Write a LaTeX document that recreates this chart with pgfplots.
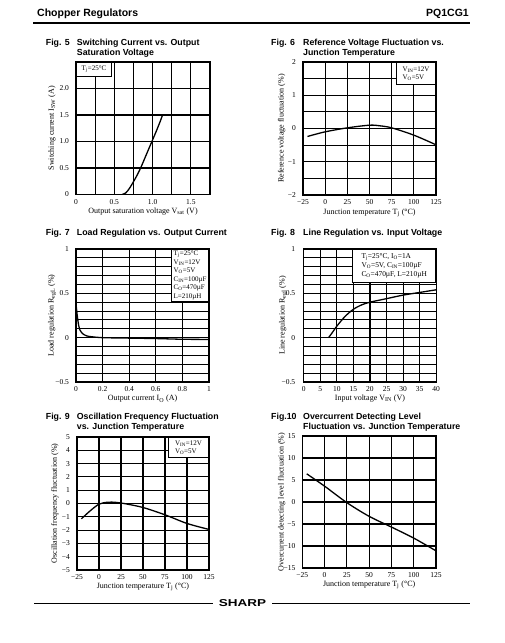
\documentclass[border=0pt]{standalone}
\usepackage{fontspec}
\setmainfont{Liberation Serif}
\newfontfamily\sansfam{Liberation Sans}
\usepackage{graphicx}
\usepackage{pgfplots}
\pgfplotsset{compat=1.18}

\pgfplotsset{
  ds/.style={
    scale only axis, anchor=north west,
    axis line style={line width=1.1pt},
    grid=both,
    major grid style={line width=1.1pt,black},
    minor grid style={line width=1.1pt,black},
    major tick length=0pt, minor tick length=0pt,
    tick label style={font=\fontsize{7.5}{8}\selectfont},
    xticklabel style={yshift=-1.2pt},
    yticklabel style={xshift=-3.5pt},
    xlabel style={font=\fontsize{8}{9}\selectfont, anchor=center},
    ylabel style={font=\fontsize{8}{9}\selectfont, anchor=center},
    /pgf/number format/assume math mode=true,
  },
  crv/.style={line width=1.3pt, black, smooth, no markers},
}
\tikzset{lg/.style={draw=black, line width=1pt, fill=white, font=\fontsize{7}{8.5}\selectfont, align=left, inner xsep=2.5pt, inner ysep=2pt}}
\newcommand{\tfont}{\sansfam\bfseries\fontsize{8.8}{10}\selectfont}

\begin{document}
\begin{tikzpicture}
\useasboundingbox (0pt,0pt) rectangle (504pt,-643pt);
% header
\node[anchor=base west, inner sep=0, font=\sansfam\bfseries\fontsize{10.5}{12}\selectfont] at (37pt,-16.5pt) {Chopper Regulators};
\node[anchor=base east, inner sep=0, font=\sansfam\bfseries\fontsize{10.5}{12}\selectfont] at (469pt,-16.5pt) {PQ1CG1};
\draw[line width=2pt] (33pt,-23pt) -- (470pt,-23pt);
% footer
\draw[line width=1pt] (34pt,-603.5pt) -- (213pt,-603.5pt);
\draw[line width=1pt] (272pt,-603.5pt) -- (470pt,-603.5pt);
\node[anchor=center, inner sep=0, font=\sansfam\bfseries\fontsize{10}{12}\selectfont] at (242.5pt,-603.5pt) {\scalebox{1.35}[1]{SHARP}};

% titles
\node[anchor=base west, inner sep=0, font=\tfont] at (45.7pt,-45pt) {Fig. 5};
\node[anchor=base west, inner sep=0, font=\tfont] at (76.7pt,-45pt) {Switching Current vs. Output};
\node[anchor=base west, inner sep=0, font=\tfont] at (76.7pt,-55.5pt) {Saturation Voltage};
\node[anchor=base west, inner sep=0, font=\tfont] at (271pt,-45pt) {Fig. 6};
\node[anchor=base west, inner sep=0, font=\tfont] at (303pt,-45pt) {Reference Voltage Fluctuation vs.};
\node[anchor=base west, inner sep=0, font=\tfont] at (303pt,-55.5pt) {Junction Temperature};
\node[anchor=base west, inner sep=0, font=\tfont] at (45.7pt,-235pt) {Fig. 7};
\node[anchor=base west, inner sep=0, font=\tfont] at (76.7pt,-235pt) {Load Regulation vs. Output Current};
\node[anchor=base west, inner sep=0, font=\tfont] at (271pt,-235pt) {Fig. 8};
\node[anchor=base west, inner sep=0, font=\tfont] at (303pt,-235pt) {Line Regulation vs. Input Voltage};
\node[anchor=base west, inner sep=0, font=\tfont] at (45.7pt,-419.5pt) {Fig. 9};
\node[anchor=base west, inner sep=0, font=\tfont] at (76.7pt,-419.5pt) {Oscillation Frequency Fluctuation};
\node[anchor=base west, inner sep=0, font=\tfont] at (76.7pt,-429.5pt) {vs. Junction Temperature};
\node[anchor=base west, inner sep=0, font=\tfont] at (271pt,-419.5pt) {Fig.10};
\node[anchor=base west, inner sep=0, font=\tfont] at (303pt,-419.5pt) {Overcurrent Detecting Level};
\node[anchor=base west, inner sep=0, font=\tfont] at (303pt,-429.5pt) {Fluctuation vs. Junction Temperature};

% Fig 5
\begin{axis}[ds, at={(76pt,-62pt)}, width=134pt, height=132.5pt,
  xmin=0, xmax=1.75, ymin=0, ymax=2.5,
  xtick={0,0.25,0.5,0.75,1,1.25,1.5,1.75}, xticklabels={0,,0.5,,1.0,,1.5,},
  ytick={0,0.5,1,1.5,2,2.5}, yticklabels={0,0.5,1.0,1.5,2.0,},
  xlabel={Output saturation voltage V\textsubscript{sat} (V)},
  xlabel style={at={(axis description cs:0.5,-0.132)}},
  ylabel={Switching current I\textsubscript{SW} (A)},
  ylabel style={at={(axis description cs:-0.18,0.5)}}]
\addplot[crv] coordinates {(0.60,0)(0.65,0.03)(0.70,0.12)(0.75,0.24)(0.80,0.37)(0.85,0.52)(0.90,0.69)(0.95,0.86)(1.00,1.03)(1.05,1.20)(1.10,1.38)(1.13,1.50)};
\node[lg, anchor=north west, minimum width=35pt, minimum height=13.5pt] at (rel axis cs:0,1) {T\textsubscript{j}=25°C};
\end{axis}

% Fig 6
\begin{axis}[ds, at={(303pt,-62pt)}, width=133pt, height=133pt,
  xmin=-25, xmax=125, ymin=-2, ymax=2,
  xtick={-25,0,25,50,75,100,125}, xticklabels={−25,0,25,50,75,100,125},
  ytick={-2,-1.5,-1,-0.5,0,0.5,1,1.5,2}, yticklabels={−2,,−1,,0,,1,,2},
  xlabel={Junction temperature T\textsubscript{j} (°C)},
  xlabel style={at={(axis description cs:0.5,-0.135)}},
  ylabel={Reference voltage fluctuation (\%)},
  ylabel style={at={(axis description cs:-0.16,0.5)}}]
\addplot[crv] coordinates {(-20,-0.24)(0,-0.1)(25,0.02)(50,0.1)(62,0.08)(75,0.02)(100,-0.2)(125,-0.49)};
\node[lg, anchor=north east, minimum width=39pt, minimum height=22pt] at (rel axis cs:1,1) {V\textsubscript{IN}=12V\\V\textsubscript{O}=5V};
\end{axis}

% Fig 7
\begin{axis}[ds, at={(76pt,-249pt)}, width=133pt, height=133pt,
  xmin=0, xmax=1, ymin=-0.5, ymax=1,
  xtick={0,0.2,0.4,0.6,0.8,1}, xticklabels={0,0.2,0.4,0.6,0.8,1},
  ytick={-0.5,0,0.5,1}, yticklabels={−0.5,0,0.5,1},
  minor ytick={-0.4,-0.3,-0.2,-0.1,0.1,0.2,0.3,0.4,0.6,0.7,0.8,0.9},
  xlabel={Output current I\textsubscript{O} (A)},
  xlabel style={at={(axis description cs:0.5,-0.128)}},
  ylabel={Load regulation R\textsubscript{egL} (\%)},
  ylabel style={at={(axis description cs:-0.18,0.5)}}]
\addplot[line width=1.3pt, black, smooth, tension=0.4] coordinates {(0,0.38)(0.01,0.24)(0.02,0.14)(0.03,0.085)(0.05,0.045)(0.08,0.02)(0.12,0.01)(0.2,0.0)(0.4,-0.005)(0.6,-0.01)(0.8,-0.018)(1,-0.02)};
\node[lg, anchor=north east, inner xsep=2pt, inner ysep=1.5pt] at (rel axis cs:1,1) {T\textsubscript{j}=25°C\\V\textsubscript{IN}=12V\\V\textsubscript{O}=5V\\C\textsubscript{IN}=100µF\\C\textsubscript{O}=470µF\\L=210µH};
\end{axis}

% Fig 8
\begin{axis}[ds, at={(303.7pt,-249pt)}, width=132.5pt, height=133pt,
  xmin=0, xmax=40, ymin=-0.5, ymax=1,
  xtick={0,5,10,15,20,25,30,35,40}, xticklabels={0,5,10,15,20,25,30,35,40},
  ytick={-0.5,0,0.5,1}, yticklabels={−0.5,0,0.5,1},
  yticklabel style={xshift=-1.5pt},
  minor ytick={-0.4,-0.3,-0.2,-0.1,0.1,0.2,0.3,0.4,0.6,0.7,0.8,0.9},
  xlabel={Input voltage V\textsubscript{IN} (V)},
  xlabel style={at={(axis description cs:0.5,-0.123)}},
  ylabel={Line regulation R\textsubscript{egI} (\%)},
  ylabel style={at={(axis description cs:-0.155,0.5)}}]
\addplot[crv] coordinates {(7.5,0)(8.5,0.05)(10,0.13)(12.5,0.24)(15,0.32)(17.5,0.37)(20,0.4)(25,0.44)(30,0.48)(35,0.51)(40,0.54)};
\node[lg, anchor=north east, minimum width=83pt, minimum height=33pt, font=\fontsize{7.4}{9}\selectfont] at (rel axis cs:1,1) {T\textsubscript{j}=25°C, I\textsubscript{O}=1A\\V\textsubscript{O}=5V, C\textsubscript{IN}=100µF\\C\textsubscript{O}=470µF, L=210µH};
\end{axis}

% Fig 9
\begin{axis}[ds, at={(77pt,-437pt)}, width=132pt, height=133pt,
  xmin=-25, xmax=125, ymin=-5, ymax=5,
  xtick={-25,0,25,50,75,100,125}, xticklabels={−25,0,25,50,75,100,125},
  ytick={-5,-4,-3,-2,-1,0,1,2,3,4,5}, yticklabels={−5,−4,−3,−2,−1,0,1,2,3,4,5},
  xlabel={Junction temperature T\textsubscript{j} (°C)},
  xlabel style={at={(axis description cs:0.5,-0.125)}},
  ylabel={Oscillation frequency fluctuation (\%)},
  ylabel style={at={(axis description cs:-0.167,0.5)}}]
\addplot[crv] coordinates {(-20,-1.15)(-10,-0.55)(0,-0.05)(10,0.1)(20,0.08)(30,-0.02)(50,-0.3)(75,-0.85)(100,-1.5)(125,-1.95)};
\node[lg, anchor=north east, minimum width=40pt, minimum height=20pt] at (rel axis cs:1,1) {V\textsubscript{IN}=12V\\V\textsubscript{O}=5V};
\end{axis}

% Fig 10
\begin{axis}[ds, at={(302.3pt,-436pt)}, width=133.7pt, height=132pt,
  xmin=-25, xmax=125, ymin=-15, ymax=15,
  xtick={-25,0,25,50,75,100,125}, xticklabels={−25,0,25,50,75,100,125},
  ytick={-15,-10,-5,0,5,10,15}, yticklabels={−15,−10,−5,0,5,10,15},
  xlabel={Junction temperature T\textsubscript{j} (°C)},
  xlabel style={at={(axis description cs:0.5,-0.129)}},
  ylabel={Overcurrent detecting level fluctuation (\%)},
  ylabel style={at={(axis description cs:-0.154,0.5), font=\fontsize{7.5}{9}\selectfont}}]
\addplot[crv] coordinates {(-20,6.4)(0,3.6)(25,-0.15)(50,-3.26)(75,-5.7)(100,-8.2)(125,-11.1)};
\end{axis}
\end{tikzpicture}
\end{document}
